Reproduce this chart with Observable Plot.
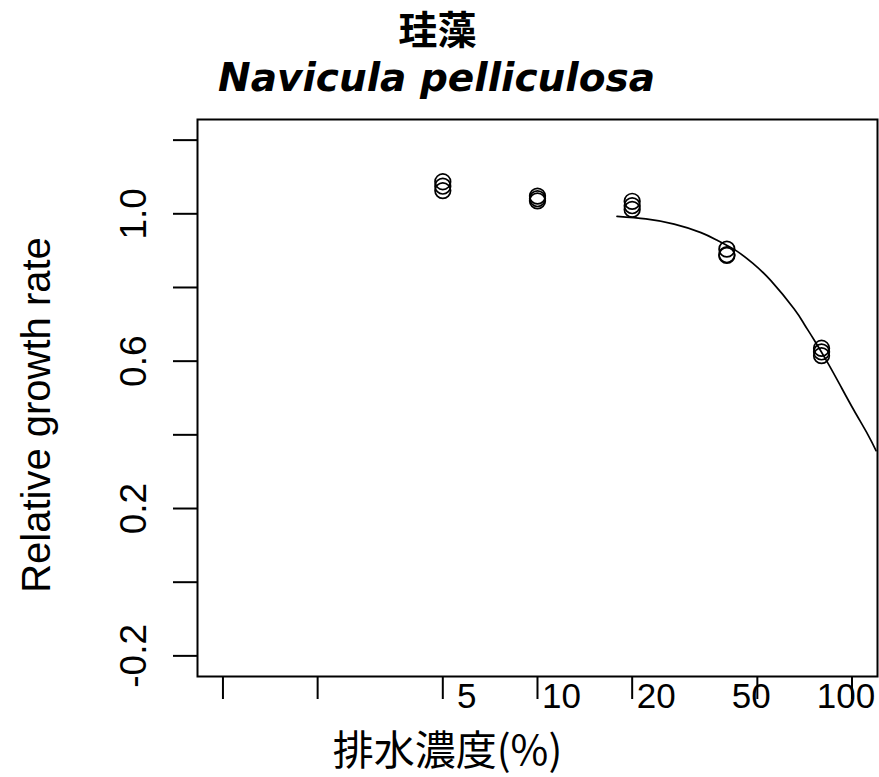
<!DOCTYPE html>
<html>
<head>
<meta charset="utf-8">
<script src="https://cdn.jsdelivr.net/npm/d3@7"></script>
<script src="https://cdn.jsdelivr.net/npm/@observablehq/plot@0.6"></script>
<style>
  html, body { margin: 0; padding: 0; background: #fff; }
</style>
</head>
<body>
<div id="chart"></div>
<script>
// Texts
const title = "珪藻";
const subtitle = "Navicula pelliculosa";
const xTitle = "排水濃度(%)";
const yTitle = "Relative growth rate";

// Axis ticks and their labels (blank = unlabeled tick)
const xTicks = [1, 2, 5, 10, 20, 50, 100];
const xTickLabels = ["", "", "5", "10", "20", "50", "100"];
const yTicks = [-0.2, 0, 0.2, 0.4, 0.6, 0.8, 1.0, 1.2];
const yTickLabels = ["-0.2", "", "0.2", "", "0.6", "", "1.0", ""];

// Observed relative growth rate per effluent concentration (replicates)
const obsConc = [5, 5, 5, 10, 10, 10, 20, 20, 20, 40, 40, 40, 80, 80, 80];
const obsRate = [1.087, 1.075, 1.063, 1.048, 1.041, 1.035, 1.034, 1.022, 1.012, 0.904, 0.889, 0.887, 0.635, 0.625, 0.615];

// Fitted concentration-response curve
const fitConc = [17.9, 22.1, 27.2, 33.1, 37.5, 42.8, 48.3, 55.3, 65.4, 70.4, 75.7, 83.9, 92.3, 101.5, 112.4, 119.2];
const fitRate = [0.993, 0.986, 0.972, 0.949, 0.927, 0.900, 0.866, 0.818, 0.742, 0.701, 0.658, 0.594, 0.530, 0.466, 0.400, 0.357];

const observations = obsConc.map((c, i) => ({conc: c, rate: obsRate[i]}));
const fitted = fitConc.map((c, i) => ({conc: c, rate: fitRate[i]}));

// x tick labels; the two highest sit a little left so "100" stays inside the page
const xLabeled = xTicks.map((t, i) => ({t, label: xTickLabels[i]})).filter(d => d.label);
const xLabelsLow = xLabeled.filter(d => d.t < 50);
const xLabelsHigh = xLabeled.filter(d => d.t >= 50);
const yLabelOf = new Map(yTicks.map((t, i) => [t, yTickLabels[i]]));

const latin = "'Liberation Sans', Arial, sans-serif";
const cjk = "'Noto Sans CJK JP', sans-serif";
const xLabelStyle = {x: "t", text: "label", frameAnchor: "bottom", dy: 31, lineAnchor: "bottom",
  fontSize: 35, fontFamily: latin, fill: "#000"};

const chart = Plot.plot({
  width: 879,
  height: 777,
  marginLeft: 197,
  marginRight: 2,
  marginTop: 119,
  marginBottom: 101,
  style: {background: "#fff", color: "#000", overflow: "visible"},
  x: {type: "log", domain: [0.83, 120.5], axis: null},
  y: {domain: [-0.256, 1.256], axis: null},
  marks: [
    Plot.frame({stroke: "#000", strokeWidth: 2}),
    Plot.axisY({
      ticks: yTicks, tickSize: 24, tickPadding: 28, tickRotate: -90,
      strokeWidth: 2, tickFormat: d => yLabelOf.get(d) ?? "",
      fontSize: 37, fontFamily: latin, label: null
    }),
    Plot.axisX({ticks: xTicks, tickSize: 23, strokeWidth: 2, tickFormat: () => "", label: null}),
    Plot.text(xLabelsLow, {...xLabelStyle, dx: 24}),
    Plot.text(xLabelsHigh, {...xLabelStyle, dx: -6}),
    Plot.line(fitted, {x: "conc", y: "rate", curve: "natural", stroke: "#000", strokeWidth: 1.7}),
    Plot.dot(observations, {x: "conc", y: "rate", r: 7.8, stroke: "#000", strokeWidth: 1.7, fill: "none"}),
    Plot.text([title], {text: d => d, frameAnchor: "top", dx: -100, dy: -88, lineAnchor: "middle",
      fontSize: 39, fontWeight: "bold", fontFamily: cjk}),
    Plot.text([subtitle], {text: d => d, frameAnchor: "top", dx: -101, dy: -29, lineAnchor: "bottom",
      fontSize: 39, fontWeight: "bold", fontStyle: "italic", fontFamily: "'DejaVu Sans', sans-serif"}),
    Plot.text([yTitle], {text: d => d, frameAnchor: "left", textAnchor: "middle", rotate: -90, dx: -160, dy: 17,
      lineAnchor: "middle", fontSize: 40, fontFamily: latin}),
    Plot.text([xTitle], {text: d => d, frameAnchor: "bottom", dx: -90, dy: 88, lineAnchor: "bottom",
      fontSize: 41, fontFamily: cjk})
  ]
});

document.getElementById("chart").appendChild(chart);
</script>
</body>
</html>
